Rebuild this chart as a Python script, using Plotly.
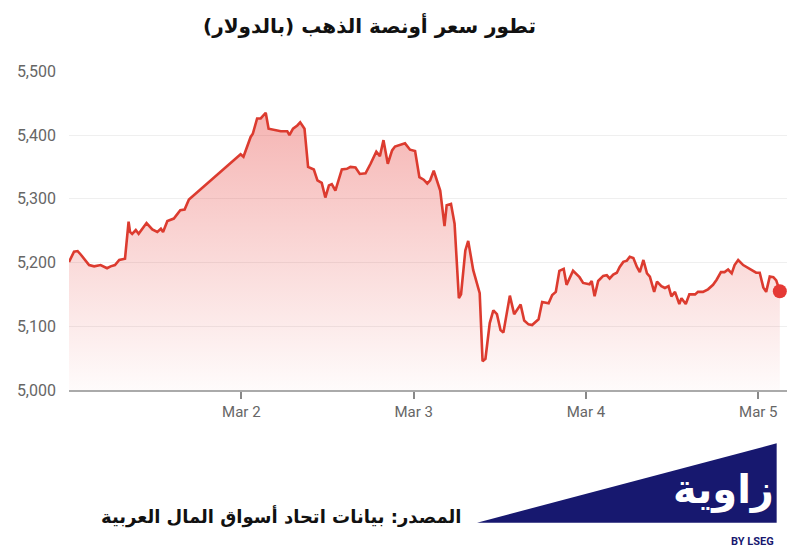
import pandas as pd
import plotly.graph_objects as go

# Hours since 2026-03-01 00:00 (chart time axis)
hours = [
    0.0, 0.7, 1.2, 1.6, 2.8, 3.5, 4.4, 5.3, 5.8, 6.4, 7.0, 7.8, 8.3, 8.5, 8.8, 9.3, 9.7,
    10.8, 11.6, 12.3, 12.8, 13.1, 13.7, 14.6, 15.5, 16.1, 16.7,
    23.9, 24.3, 25.3, 25.6, 26.2, 26.7, 27.4, 27.8, 29.0, 29.5, 30.4, 30.7, 31.2, 31.8,
    32.2, 32.8, 33.3, 34.1, 34.6, 35.2, 35.7, 36.2, 36.6, 37.1, 38.0, 38.7, 39.2, 39.9,
    40.5, 41.3, 42.0, 42.8, 43.3, 43.8, 44.4, 45.0, 45.4, 46.1, 46.8, 47.5, 48.2, 48.8,
    49.4, 49.9, 50.3, 50.8, 51.3, 51.7, 52.3, 52.6, 53.2, 53.7, 54.3, 54.6, 55.2, 55.6,
    56.3, 57.2, 57.6, 58.0, 58.6, 59.1, 59.6, 60.1, 60.5, 61.4, 62.0, 62.9, 63.4, 64.0,
    64.5, 65.4, 65.9, 66.8, 67.3, 67.8, 68.3, 68.9, 69.3, 70.2, 71.1, 71.6, 72.5, 72.8,
    73.2, 73.7, 74.4, 74.9, 75.3, 75.8, 76.3, 76.7, 77.2, 77.7, 78.1, 78.6, 79.1, 79.5,
    80.0, 80.5, 80.9, 81.5, 81.9, 82.5, 83.0, 83.5, 83.9, 84.4, 85.0, 85.3, 85.9, 86.4,
    87.2, 87.6, 88.3, 89.0, 89.7, 90.2, 90.8, 91.3, 91.8, 92.3, 92.7, 93.2, 93.9, 94.6,
    95.3, 95.7, 96.2, 96.7, 97.1, 97.6, 98.1, 98.5, 99.0,
]
prices = [
    5201, 5217, 5218, 5213, 5196, 5194, 5196, 5191, 5194, 5196, 5204, 5206, 5264, 5248, 5245, 5251, 5245,
    5262, 5252, 5248, 5253, 5248, 5265, 5269, 5282, 5283, 5299,
    5370, 5366, 5397, 5402, 5426, 5426, 5435, 5410, 5408, 5406, 5406, 5400, 5410, 5415,
    5420, 5410, 5350, 5346, 5329, 5325, 5302, 5321, 5323, 5313, 5346, 5347, 5350, 5349,
    5339, 5340, 5355, 5374, 5367, 5392, 5355, 5376, 5382, 5384, 5387, 5377, 5375, 5334,
    5330, 5324, 5329, 5344, 5326, 5313, 5257, 5290, 5292, 5261, 5144, 5150, 5219, 5234,
    5188, 5152, 5045, 5049, 5105, 5125, 5119, 5094, 5090, 5148, 5119, 5134, 5109, 5103,
    5102, 5111, 5138, 5136, 5149, 5154, 5187, 5190, 5165, 5187, 5177, 5168, 5166, 5171,
    5147, 5171, 5179, 5180, 5175, 5181, 5184, 5193, 5201, 5203, 5209, 5207, 5193, 5185,
    5204, 5183, 5178, 5154, 5170, 5163, 5160, 5163, 5147, 5154, 5135, 5144, 5135, 5150,
    5150, 5154, 5154, 5158, 5165, 5173, 5185, 5185, 5189, 5183, 5196, 5204, 5196, 5191,
    5187, 5184, 5184, 5161, 5154, 5178, 5177, 5172, 5155,
]
y_ticks = [5000, 5100, 5200, 5300, 5400, 5500]
x_tick_dates = ["2026-03-02", "2026-03-03", "2026-03-04", "2026-03-05"]
x_tick_labels = ["Mar 2", "Mar 3", "Mar 4", "Mar 5"]

title_text = "تطور سعر أونصة الذهب (بالدولار)\u200f"
source_text = "المصدر: بيانات اتحاد أسواق المال العربية\u200f"
logo_text = "زاوية"
logo_sub = "BY LSEG"

start = pd.Timestamp("2026-03-01 00:00")
times = [start + pd.Timedelta(hours=h) for h in hours]
y_min, y_max = 5000, 5500

RED = "#dc3b2f"

fig = go.Figure()
fig.add_trace(go.Scatter(
    x=times, y=[y_min] * len(times), mode="lines",
    line=dict(width=0, color="rgba(0,0,0,0)"), hoverinfo="skip", showlegend=False,
))
fig.add_trace(go.Scatter(
    x=times, y=prices, mode="lines",
    line=dict(color=RED, width=2.6),
    fill="tonexty",
    fillgradient=dict(
        type="vertical", start=y_min, stop=5440,
        colorscale=[[0, "rgba(229,57,53,0.02)"], [1, "rgba(229,57,53,0.38)"]],
    ),
    showlegend=False,
))
fig.add_trace(go.Scatter(
    x=[times[-1]], y=[prices[-1]], mode="markers",
    marker=dict(color="#e53935", size=14),
    showlegend=False,
))

fig.update_layout(
    width=800, height=552,
    margin=dict(l=69, r=13, t=71, b=162),
    paper_bgcolor="white", plot_bgcolor="white",
    font=dict(family="Roboto, Arial, sans-serif", color="#666"),
    xaxis=dict(
        range=[start, start + pd.Timedelta(hours=100)],
        tickvals=[pd.Timestamp(d) for d in x_tick_dates],
        ticktext=x_tick_labels,
        showgrid=False, zeroline=False,
        showline=True, linecolor="#aaaaaa", linewidth=2,
        ticks="outside", ticklen=7, tickwidth=2, tickcolor="#888888",
        tickfont=dict(size=15, color="#666"),
    ),
    yaxis=dict(
        range=[y_min, y_max + 0.5],
        tickvals=y_ticks, tickformat=",",
        showgrid=True, gridcolor="#efefef", gridwidth=1,
        zeroline=False, showline=False, ticks="",
        ticklabelstandoff=12,
        tickfont=dict(size=16, color="#666"),
    ),
    shapes=[
        dict(type="path", xref="paper", yref="paper",
             path="M 0.5683 -0.4160 L 0.9856 -0.1670 L 0.9856 -0.4160 Z",
             fillcolor="#17186f", line=dict(width=0)),
    ],
    annotations=[
        dict(text="<b>" + title_text + "</b>", xref="paper", yref="paper",
             x=0.4192, y=1.144, showarrow=False, xanchor="center", yanchor="middle",
             font=dict(family="DejaVu Sans", size=20, color="#111")),
        dict(text="<b>" + source_text + "</b>", xref="paper", yref="paper",
             x=0.2953, y=-0.398, showarrow=False, xanchor="center", yanchor="middle",
             font=dict(family="DejaVu Sans", size=18, color="#111")),
        dict(text="<b>" + logo_text + "</b>", xref="paper", yref="paper",
             x=0.9840, y=-0.312, showarrow=False, xanchor="right", yanchor="middle",
             font=dict(family="DejaVu Sans", size=40, color="white")),
        dict(text="<b>" + logo_sub + "</b>", xref="paper", yref="paper",
             x=0.9840, y=-0.476, showarrow=False, xanchor="right", yanchor="middle",
             font=dict(family="Roboto, Arial", size=11, color="#17186f")),
    ],
)

fig.write_html(
    "out.html",
    config={"displayModeBar": False},
    post_script="document.body.style.margin='0px';",
)
